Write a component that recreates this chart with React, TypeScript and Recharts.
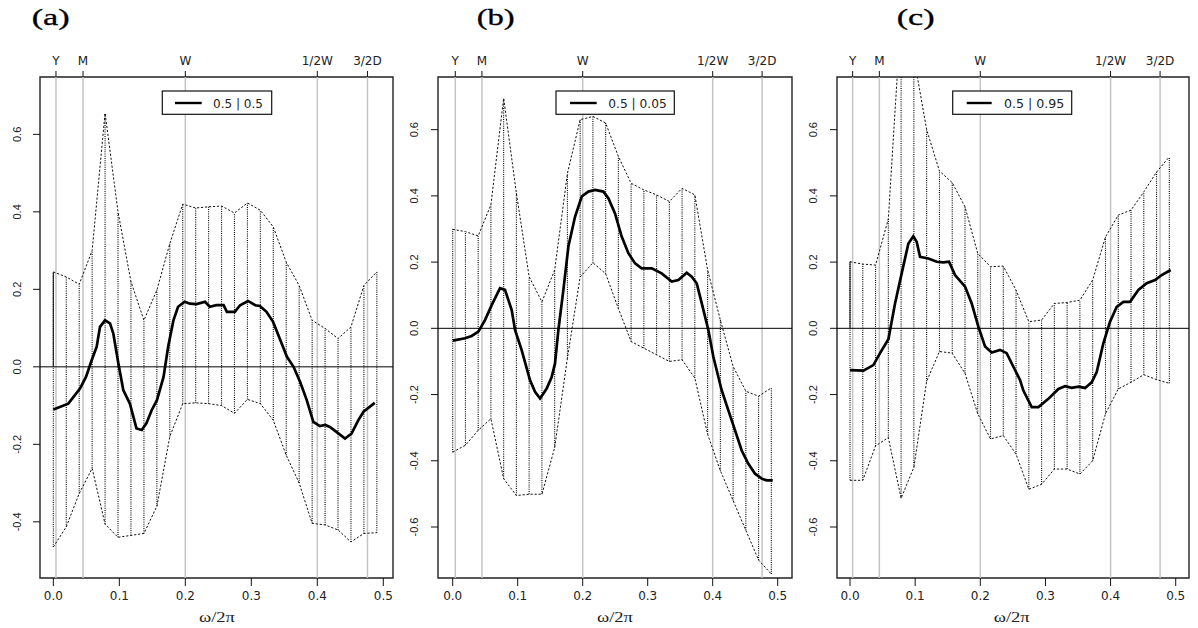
import React from "react";
import { ComposedChart, Line, XAxis, YAxis, ReferenceLine, ReferenceArea } from "recharts";

// Frequency grid of the pointwise band (ω/2π)
const freqGrid = [0, 0.0196, 0.0392, 0.0588, 0.0784, 0.098, 0.1176, 0.1373, 0.1569, 0.1765, 0.1961, 0.2157, 0.2353, 0.2549, 0.2745, 0.2941, 0.3137, 0.3333, 0.3529, 0.3725, 0.3922, 0.4118, 0.4314, 0.451, 0.4706, 0.4902];

// Panel (a) 0.5 | 0.5
const upperA = [0.245, 0.232, 0.213, 0.30, 0.655, 0.40, 0.22, 0.12, 0.198, 0.318, 0.42, 0.41, 0.413, 0.415, 0.397, 0.423, 0.404, 0.361, 0.27, 0.21, 0.12, 0.099, 0.073, 0.103, 0.21, 0.245];
const lowerA = [-0.465, -0.413, -0.327, -0.262, -0.406, -0.44, -0.435, -0.43, -0.36, -0.18, -0.095, -0.093, -0.095, -0.1, -0.12, -0.084, -0.095, -0.138, -0.228, -0.3, -0.404, -0.408, -0.421, -0.452, -0.43, -0.428];
const medFreqA = [0, 0.0227, 0.0404, 0.0495, 0.0581, 0.0657, 0.0707, 0.0783, 0.0859, 0.0909, 0.0985, 0.106, 0.116, 0.126, 0.134, 0.141, 0.149, 0.157, 0.167, 0.174, 0.182, 0.189, 0.199, 0.207, 0.217, 0.23, 0.237, 0.247, 0.258, 0.263, 0.275, 0.283, 0.295, 0.306, 0.313, 0.323, 0.333, 0.343, 0.354, 0.364, 0.374, 0.384, 0.394, 0.404, 0.412, 0.419, 0.429, 0.442, 0.452, 0.462, 0.47, 0.487];
const medA = [-0.11, -0.095, -0.056, -0.026, 0.017, 0.052, 0.103, 0.12, 0.112, 0.086, 0.009, -0.06, -0.095, -0.159, -0.163, -0.146, -0.112, -0.086, -0.026, 0.052, 0.12, 0.155, 0.168, 0.163, 0.162, 0.168, 0.155, 0.159, 0.159, 0.142, 0.142, 0.159, 0.17, 0.159, 0.157, 0.142, 0.116, 0.073, 0.026, 0, -0.039, -0.086, -0.142, -0.153, -0.15, -0.155, -0.168, -0.185, -0.172, -0.138, -0.116, -0.093];

// Panel (b) 0.5 | 0.05
const upperB = [0.299, 0.292, 0.279, 0.373, 0.695, 0.408, 0.156, 0.08, 0.176, 0.468, 0.63, 0.64, 0.62, 0.519, 0.438, 0.418, 0.403, 0.383, 0.423, 0.403, 0.176, 0.025, -0.115, -0.19, -0.205, -0.18];
const lowerB = [-0.374, -0.353, -0.308, -0.273, -0.454, -0.505, -0.501, -0.501, -0.36, -0.09, 0.155, 0.198, 0.165, 0.06, -0.04, -0.06, -0.08, -0.1, -0.095, -0.15, -0.32, -0.43, -0.52, -0.61, -0.7, -0.742];
const medFreqB = [0, 0.019, 0.0292, 0.0395, 0.0497, 0.06, 0.0728, 0.0805, 0.0908, 0.0959, 0.106, 0.119, 0.1267, 0.1344, 0.1446, 0.1523, 0.1574, 0.1626, 0.1703, 0.178, 0.1882, 0.1985, 0.2087, 0.219, 0.2318, 0.2395, 0.2497, 0.26, 0.2703, 0.2805, 0.2908, 0.3062, 0.3215, 0.3369, 0.3472, 0.36, 0.3677, 0.3754, 0.3831, 0.3933, 0.401, 0.4138, 0.4241, 0.4344, 0.4446, 0.4549, 0.4651, 0.4754, 0.4831, 0.4923];
const medB = [-0.037, -0.03, -0.023, -0.01, 0.025, 0.07, 0.121, 0.116, 0.055, -0.005, -0.065, -0.157, -0.192, -0.212, -0.182, -0.147, -0.106, -0.005, 0.116, 0.247, 0.337, 0.398, 0.413, 0.418, 0.413, 0.393, 0.347, 0.277, 0.227, 0.196, 0.181, 0.181, 0.166, 0.141, 0.146, 0.168, 0.156, 0.136, 0.076, -0.005, -0.086, -0.187, -0.248, -0.308, -0.369, -0.409, -0.439, -0.454, -0.459, -0.459];

// Panel (c) 0.5 | 0.95
const upperC = [0.201, 0.194, 0.191, 0.33, 0.95, 0.82, 0.6, 0.475, 0.44, 0.367, 0.226, 0.186, 0.188, 0.115, 0.02, 0.025, 0.075, 0.078, 0.085, 0.146, 0.276, 0.342, 0.357, 0.412, 0.472, 0.518];
const lowerC = [-0.459, -0.459, -0.355, -0.33, -0.513, -0.42, -0.16, -0.07, -0.075, -0.136, -0.258, -0.334, -0.324, -0.38, -0.486, -0.471, -0.425, -0.425, -0.44, -0.4, -0.258, -0.183, -0.163, -0.14, -0.155, -0.166];
const medFreqC = [0, 0.0205, 0.0358, 0.0461, 0.0589, 0.0691, 0.0793, 0.0896, 0.0972, 0.1024, 0.1075, 0.1203, 0.1331, 0.1433, 0.152, 0.1612, 0.1766, 0.1868, 0.197, 0.2073, 0.2175, 0.2303, 0.2405, 0.2508, 0.261, 0.2661, 0.2789, 0.2892, 0.3045, 0.3199, 0.3301, 0.3403, 0.3506, 0.3608, 0.371, 0.3787, 0.3889, 0.3992, 0.4094, 0.4197, 0.4299, 0.4427, 0.4555, 0.4683, 0.4785, 0.4923];
const medC = [-0.126, -0.128, -0.111, -0.075, -0.033, 0.075, 0.166, 0.256, 0.278, 0.261, 0.216, 0.211, 0.201, 0.199, 0.201, 0.161, 0.126, 0.075, 0.005, -0.055, -0.073, -0.065, -0.075, -0.116, -0.156, -0.188, -0.238, -0.238, -0.213, -0.183, -0.175, -0.18, -0.176, -0.18, -0.163, -0.132, -0.045, 0.02, 0.065, 0.08, 0.08, 0.116, 0.136, 0.146, 0.161, 0.176];

// Axis ticks and period markers
const bottomTicks = [0, 0.1, 0.2, 0.3, 0.4, 0.5];
const yTicksA = [-0.4, -0.2, 0, 0.2, 0.4, 0.6];
const yTicksBC = [-0.6, -0.4, -0.2, 0, 0.2, 0.4, 0.6];
const markerPos = [0.004, 0.045, 0.2, 0.4, 0.476];
const markerLabels = ["Y", "M", "W", "1/2W", "3/2D"];
const panelTitles = ["(a)", "(b)", "(c)"];
const legendLabels = ["0.5 | 0.5", "0.5 | 0.05", "0.5 | 0.95"];

const SANS = "'DejaVu Sans', 'Liberation Sans', sans-serif";

const makeYTick = (shift: number) => (props: any) => {
  const { x, y, payload } = props;
  const tx = x - shift;
  return (
    <text
      x={tx}
      y={y}
      transform={`rotate(-90 ${tx} ${y})`}
      textAnchor="middle"
      fontSize={11}
      fontFamily="'Liberation Sans', Arial, sans-serif"
      fill="#222"
    >
      {Number(payload.value).toFixed(1)}
    </text>
  );
};

type PanelProps = {
  left: number;
  width: number;
  margin: { top: number; right: number; bottom: number; left: number };
  xDomain: [number, number];
  yDomain: [number, number];
  yTicks: number[];
  upper: number[];
  lower: number[];
  medFreq: number[];
  med: number[];
  solidStart: boolean;
  tickShift: number;
};

function Panel(p: PanelProps) {
  const rows = freqGrid.map((f, i) => ({ f, upper: p.upper[i], lower: p.lower[i] }));
  const medRows = p.medFreq.map((f, i) => ({ f, med: p.med[i] }));
  return (
    <div style={{ position: "absolute", left: p.left, top: 0 }}>
      <ComposedChart width={p.width} height={628} data={rows} margin={p.margin}>
        <XAxis
          xAxisId={0}
          dataKey="f"
          type="number"
          domain={p.xDomain}
          allowDataOverflow
          ticks={bottomTicks}
          interval={0}
          tickFormatter={(v: number) => v.toFixed(1)}
          tickSize={8}
          tickMargin={5}
          axisLine={false}
          tickLine={{ stroke: "#111" }}
          height={40}
          tick={{ fill: "#222", fontSize: 12, fontFamily: SANS }}
        />
        <XAxis
          xAxisId="top"
          orientation="top"
          dataKey="f"
          type="number"
          domain={p.xDomain}
          allowDataOverflow
          ticks={markerPos}
          interval={0}
          tickFormatter={(v: number) => markerLabels[markerPos.indexOf(v)]}
          tickSize={6}
          tickMargin={6}
          axisLine={false}
          tickLine={{ stroke: "#111" }}
          height={25}
          tick={{ fill: "#222", fontSize: 12, fontFamily: SANS }}
        />
        <YAxis
          type="number"
          domain={p.yDomain}
          allowDataOverflow
          ticks={p.yTicks}
          interval={0}
          width={30}
          tickSize={7}
          axisLine={false}
          tickLine={{ stroke: "#111" }}
          tick={makeYTick(p.tickShift)}
        />
        {markerPos.map((m) => (
          <ReferenceLine key={"m" + m} x={m} stroke="#c4c4c4" strokeWidth={1.5} ifOverflow="hidden" />
        ))}
        <ReferenceLine y={0} stroke="#000" strokeWidth={1} ifOverflow="hidden" />
        {p.solidStart && (
          <ReferenceLine
            segment={[{ x: freqGrid[0], y: 0 }, { x: freqGrid[0], y: p.upper[0] }]}
            stroke="#333"
            strokeWidth={1.2}
            ifOverflow="hidden"
          />
        )}
        {rows.map((r) => (
          <ReferenceLine
            key={"v" + r.f}
            segment={[{ x: r.f, y: r.lower }, { x: r.f, y: r.upper }]}
            stroke="#000"
            strokeWidth={1.1}
            strokeDasharray="1 1.2"
            ifOverflow="hidden"
          />
        ))}
        <Line dataKey="upper" type="linear" stroke="#111" strokeWidth={1} strokeDasharray="2.2 1.8" dot={false} isAnimationActive={false} />
        <Line dataKey="lower" type="linear" stroke="#111" strokeWidth={1} strokeDasharray="2.2 1.8" dot={false} isAnimationActive={false} />
        <Line data={medRows} dataKey="med" type="linear" stroke="#000" strokeWidth={2.7} dot={false} isAnimationActive={false} />
        <ReferenceArea
          x1={p.xDomain[0]}
          x2={p.xDomain[1]}
          y1={p.yDomain[0]}
          y2={p.yDomain[1]}
          fill="none"
          fillOpacity={0}
          stroke="#222"
          strokeWidth={1.4}
          ifOverflow="visible"
        />
      </ComposedChart>
    </div>
  );
}

// overlay decoration geometry (titles, legends, x-axis title)
const titleX = [31.7, 476.7, 896.7];
const legendBox = [
  { x: 162.3, w: 109.4, lx1: 175, lx2: 201.7, tx: 213, tw: 50 },
  { x: 556, w: 118.3, lx1: 570, lx2: 596.7, tx: 608.3, tw: 58.4 },
  { x: 952.7, w: 119, lx1: 966.7, lx2: 991.7, tx: 1004, tw: 60.3 },
];
const xTitleCenter = [217, 615, 1011.7];

export default function App() {
  return (
    <div style={{ position: "absolute", left: 0, top: 0, width: 1198, height: 628, background: "#fff", overflow: "hidden" }}>
      <Panel
        left={0}
        width={400}
        margin={{ top: 52, right: 7, bottom: 10, left: 10 }}
        xDomain={[-0.0202, 0.5147]}
        yDomain={[-0.545, 0.748]}
        yTicks={yTicksA}
        upper={upperA}
        lower={lowerA}
        medFreq={medFreqA}
        med={medA}
        solidStart={true}
        tickShift={9.5}
      />
      <Panel
        left={400}
        width={400}
        margin={{ top: 52, right: 8, bottom: 10, left: 8 }}
        xDomain={[-0.0226, 0.522]}
        yDomain={[-0.754, 0.759]}
        yTicks={yTicksBC}
        upper={upperB}
        lower={lowerB}
        medFreq={medFreqB}
        med={medB}
        solidStart={false}
        tickShift={10.5}
      />
      <Panel
        left={800}
        width={398}
        margin={{ top: 52, right: 9, bottom: 10, left: 7 }}
        xDomain={[-0.02, 0.5204]}
        yDomain={[-0.754, 0.759]}
        yTicks={yTicksBC}
        upper={upperC}
        lower={lowerC}
        medFreq={medFreqC}
        med={medC}
        solidStart={true}
        tickShift={10.5}
      />
      <svg width={1198} height={628} style={{ position: "absolute", left: 0, top: 0, pointerEvents: "none" }}>
        {panelTitles.map((t, i) => (
          <text
            key={t}
            x={titleX[i]}
            y={24.5}
            fontFamily="'Liberation Serif', 'DejaVu Serif', serif"
            fontSize={23}
            textLength={38}
            lengthAdjust="spacingAndGlyphs"
            fill="#000"
            stroke="#000"
            strokeWidth={0.3}
          >
            {t}
          </text>
        ))}
        {legendBox.map((b, i) => (
          <g key={"lg" + i}>
            <rect x={b.x} y={91} width={b.w} height={23.3} fill="#fff" stroke="#111" strokeWidth={1.2} />
            <line x1={b.lx1} x2={b.lx2} y1={103} y2={103} stroke="#000" strokeWidth={2.4} />
            <text
              x={b.tx}
              y={108}
              fontFamily={SANS}
              fontSize={12}
              textLength={b.tw}
              lengthAdjust="spacingAndGlyphs"
              fill="#222"
            >
              {legendLabels[i]}
            </text>
          </g>
        ))}
        {xTitleCenter.map((c, i) => (
          <text
            key={"xt" + i}
            x={c}
            y={622}
            textAnchor="middle"
            fontFamily="'Liberation Serif', 'DejaVu Serif', serif"
            fontSize={14}
            textLength={36}
            lengthAdjust="spacingAndGlyphs"
            fill="#222"
          >
            ω/2π
          </text>
        ))}
      </svg>
    </div>
  );
}
